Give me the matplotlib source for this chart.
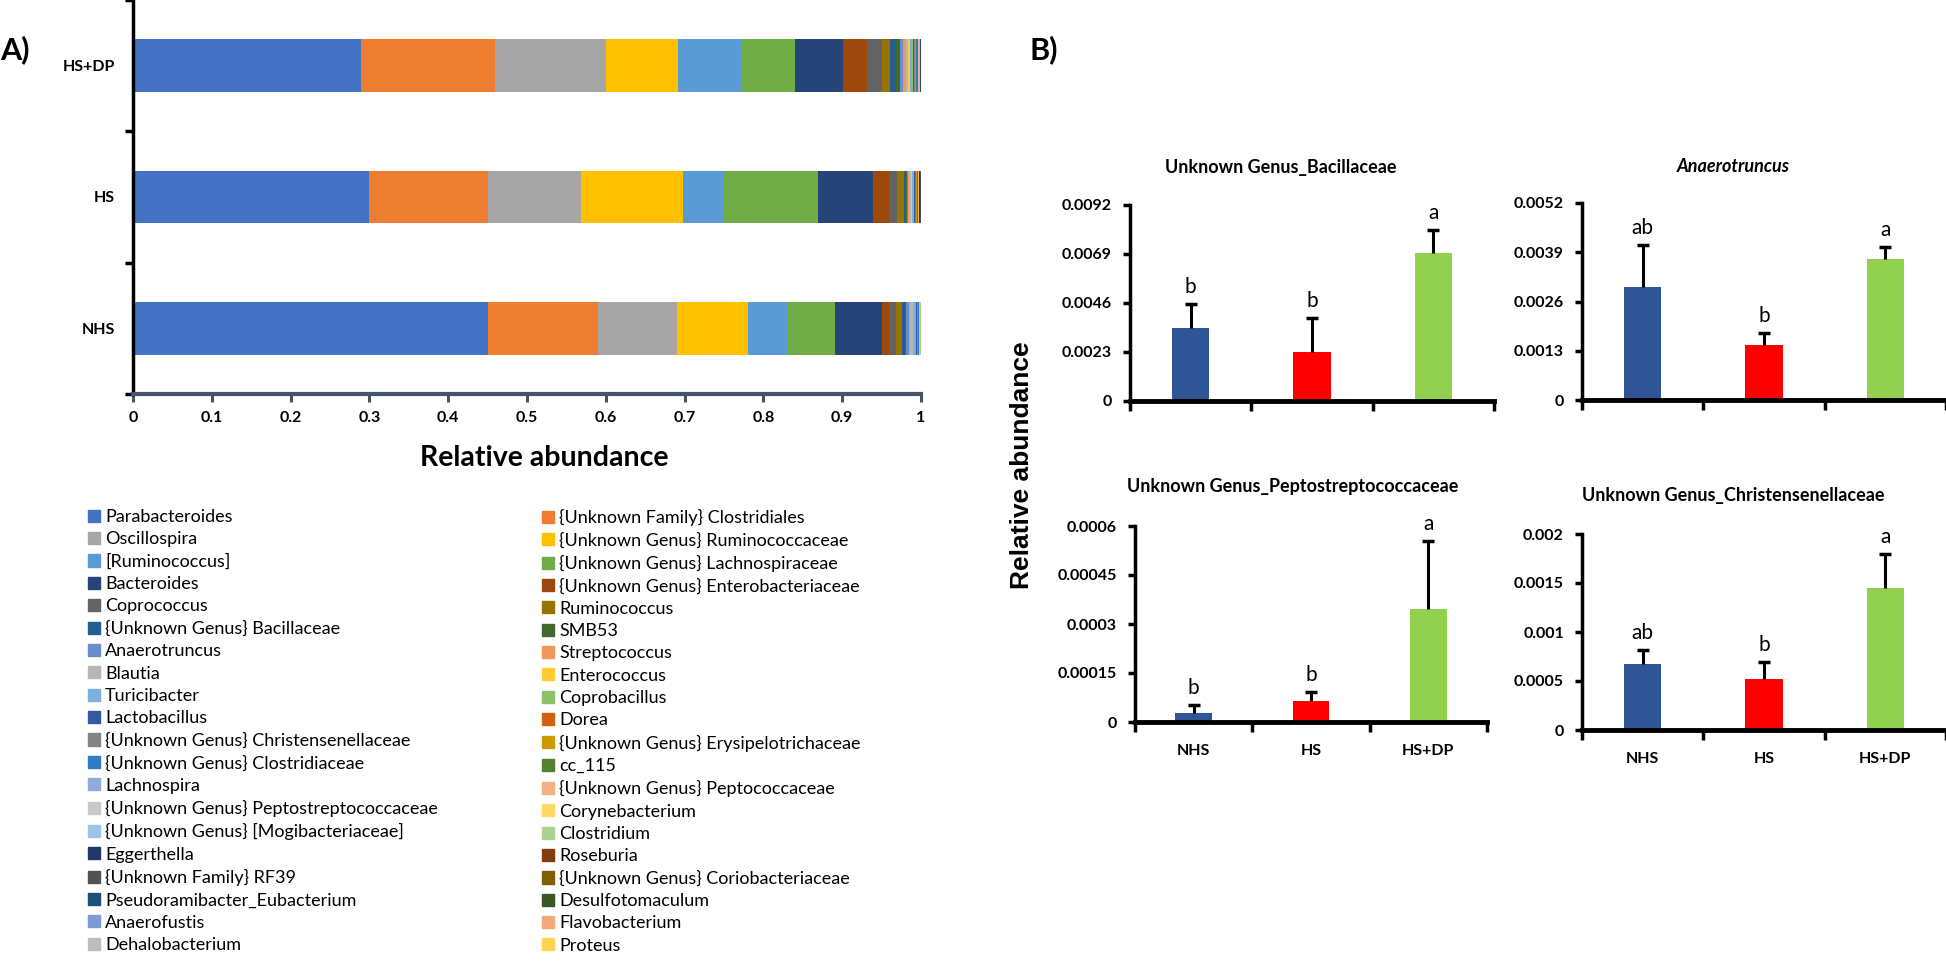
import numpy as np
import matplotlib
matplotlib.use("Agg")
import matplotlib.pyplot as plt
from matplotlib.patches import Patch

plt.rcParams['font.family'] = ['Lato', 'DejaVu Sans']

# ---------------- data: panel A (stacked relative abundance) ----------------
groups = ['NHS', 'HS', 'HS+DP']

taxa = ['Parabacteroides', '{Unknown Family} Clostridiales', 'Oscillospira',
        '{Unknown Genus} Ruminococcaceae', '[Ruminococcus]', '{Unknown Genus} Lachnospiraceae',
        'Bacteroides', '{Unknown Genus} Enterobacteriaceae', 'Coprococcus', 'Ruminococcus',
        '{Unknown Genus} Bacillaceae', 'SMB53', 'Anaerotruncus', 'Streptococcus',
        'Blautia', 'Enterococcus', 'Turicibacter', 'Coprobacillus', 'Lactobacillus', 'Dorea',
        '{Unknown Genus} Christensenellaceae', '{Unknown Genus} Erysipelotrichaceae',
        '{Unknown Genus} Clostridiaceae', 'cc_115', 'Lachnospira', '{Unknown Genus} Peptococcaceae',
        '{Unknown Genus} Peptostreptococcaceae', 'Corynebacterium',
        '{Unknown Genus} [Mogibacteriaceae]', 'Clostridium', 'Eggerthella', 'Roseburia',
        '{Unknown Family} RF39', '{Unknown Genus} Coriobacteriaceae', 'Pseudoramibacter_Eubacterium',
        'Desulfotomaculum', 'Anaerofustis', 'Flavobacterium', 'Dehalobacterium', 'Proteus']

taxa_colors = ['#4472C4', '#ED7D31', '#A5A5A5', '#FFC000', '#5B9BD5', '#70AD47',
               '#264478', '#9E480E', '#636363', '#997300', '#255E91', '#43682B',
               '#698ED0', '#F1975A', '#B7B7B7', '#FFCD33', '#7CAFDD', '#8CC168',
               '#335AA1', '#D26012', '#848484', '#CC9A00', '#327DC2', '#548235',
               '#8FAADC', '#F4B183', '#C9C9C9', '#FFD966', '#9DC3E6', '#A9D18E',
               '#203864', '#843C0C', '#525252', '#7F6000', '#1F4E79', '#385723',
               '#7D9BD6', '#F4A87C', '#BDBDBD', '#FFD54F']

nhs = [0.450, 0.140, 0.100, 0.090, 0.050, 0.061, 0.059, 0.010, 0.008, 0.008,
       0.0034, 0.002, 0.0030, 0.002, 0.003, 0.001, 0.003, 0.0005, 0.001, 0.0005,
       0.00067, 0.0005, 0.0005, 0.0004, 0.0005, 0.0005, 0.00003, 0.0003, 0.0005, 0.0002,
       0.0002, 0.0002, 0.0002, 0.0001, 0.0001, 0.0001, 0.0001, 0.0001, 0.0001, 0.0001]

hs = [0.300, 0.150, 0.118, 0.130, 0.051, 0.120, 0.070, 0.020, 0.010, 0.009,
      0.0023, 0.002, 0.00145, 0.001, 0.0027, 0.001, 0.0015, 0.001, 0.001, 0.0015,
      0.00052, 0.0008, 0.0008, 0.0006, 0.0006, 0.0004, 0.000064, 0.0003, 0.0003, 0.0002,
      0.0002, 0.001, 0.0002, 0.0001, 0.0001, 0.0001, 0.0001, 0.0001, 0.0001, 0.0001]

hsdp = [0.289, 0.171, 0.140, 0.091, 0.080, 0.069, 0.061, 0.030, 0.020, 0.010,
        0.0068, 0.006, 0.0037, 0.004, 0.002, 0.003, 0.0015, 0.0015, 0.001, 0.001,
        0.00145, 0.001, 0.001, 0.0008, 0.0006, 0.0005, 0.00035, 0.0004, 0.0004, 0.0003,
        0.0003, 0.0003, 0.0002, 0.0002, 0.0002, 0.0001, 0.0001, 0.0001, 0.0001, 0.0001]

xticks_a = [0, 0.1, 0.2, 0.3, 0.4, 0.5, 0.6, 0.7, 0.8, 0.9, 1]

# ---------------- data: panel B (selected genera) ----------------
group_colors = ['#2F5597', '#FF0000', '#92D050']

bac_mean = [0.00343, 0.0023, 0.00695]
bac_err = [0.00112, 0.0016, 0.00108]
bac_letters = ['b', 'b', 'a']
bac_ticks = [0, 0.0023, 0.0046, 0.0069, 0.0092]

ana_mean = [0.00298, 0.00145, 0.00372]
ana_err = [0.00111, 0.00031, 0.00033]
ana_letters = ['ab', 'b', 'a']
ana_ticks = [0, 0.0013, 0.0026, 0.0039, 0.0052]

pep_mean = [0.000028, 0.000064, 0.000347]
pep_err = [0.000025, 0.000028, 0.000207]
pep_letters = ['b', 'b', 'a']
pep_ticks = [0, 0.00015, 0.0003, 0.00045, 0.0006]

chr_mean = [0.000673, 0.00052, 0.00145]
chr_err = [0.000143, 0.000173, 0.00035]
chr_letters = ['ab', 'b', 'a']
chr_ticks = [0, 0.0005, 0.001, 0.0015, 0.002]

W, H = 1946, 968
fig = plt.figure(figsize=(W / 100, H / 100), dpi=100)


def rect(l, t, r, b):
    # pixel box -> figure fraction
    return [l / W, 1 - b / H, (r - l) / W, (b - t) / H]


# ---------------- panel A ----------------
axA = fig.add_axes(rect(133, 0, 921, 394))
ypos = np.arange(len(groups))
left = np.zeros(len(groups))
for i, name in enumerate(taxa):
    vals = np.array([nhs[i], hs[i], hsdp[i]])
    axA.barh(ypos, vals, left=left, height=0.4, color=taxa_colors[i], label=name)
    left += vals

axA.set_xlim(0, 1)
axA.set_ylim(-0.5, 2.5)
axA.set_xticks(xticks_a)
axA.set_xticklabels(['%g' % v for v in xticks_a], fontsize=11.5, fontweight='bold')
axA.tick_params(axis='x', direction='out', length=6, width=2.2, color='#44546A', pad=6)
axA.set_yticks([-0.5, 0.5, 1.5, 2.5])
axA.set_yticklabels([])
axA.set_yticks(ypos, minor=True)
axA.set_yticklabels(groups, minor=True, fontsize=11.5, fontweight='bold')
axA.tick_params(axis='y', which='major', direction='out', length=6, width=2.5)
axA.tick_params(axis='y', which='minor', length=0, pad=13)
for s in ['top', 'right']:
    axA.spines[s].set_visible(False)
axA.spines['left'].set_linewidth(2.5)
axA.spines['bottom'].set_linewidth(3)
axA.spines['bottom'].set_color('#44546A')

fig.text(544 / W, 1 - 458 / H, 'Relative abundance', ha='center', va='center',
         fontsize=20.5, fontweight='bold')
fig.text(0 / W, 1 - 50 / H, 'A)', ha='left', va='center', fontsize=22, fontweight='bold')

# legend: Excel fills row-wise over two columns
leg_handles = [Patch(color=c) for c in taxa_colors]
for col, x0 in enumerate([88, 542]):
    fig.legend(leg_handles[col::2], taxa[col::2], loc='upper left',
               bbox_to_anchor=(x0 / W, 1 - 509 / H), ncol=1, frameon=False,
               fontsize=13, handlelength=0.65, handleheight=0.65, handletextpad=0.3,
               labelspacing=0.35, borderpad=0, borderaxespad=0)

# ---------------- panel B ----------------
fig.text(1030 / W, 1 - 50 / H, 'B)', ha='left', va='center', fontsize=22, fontweight='bold')
fig.text(1022 / W, 1 - 465 / H, 'Relative abundance', rotation=90, ha='center', va='center',
         fontsize=19, fontweight='bold', family='Liberation Sans')


def bar_panel(box, mean, err, letters, ticks, title, title_xy, italic=False, show_x=False):
    ax = fig.add_axes(rect(*box))
    x = np.arange(len(groups))
    ax.bar(x, mean, width=0.31, color=group_colors)
    eb = ax.errorbar(x, mean, yerr=[np.zeros(len(err)), err], fmt='none', ecolor='black',
                     elinewidth=2.2, capsize=4.5, capthick=2.5)
    eb[1][0].set_visible(False)
    for xi, m, e, lt in zip(x, mean, err, letters):
        ax.annotate(lt, (xi, m + e), xytext=(0, 5), textcoords='offset points',
                    ha='center', va='bottom', fontsize=15)
    ax.set_xlim(-0.5, 2.5)
    ax.set_ylim(0, ticks[-1])
    ax.set_yticks(ticks)
    ax.set_yticklabels(['%g' % t for t in ticks], fontsize=11.5, fontweight='bold')
    ax.set_xticks([-0.5, 0.5, 1.5, 2.5])
    ax.set_xticklabels([])
    ax.tick_params(axis='both', which='major', direction='out', width=2.5)
    ax.tick_params(axis='y', length=5, pad=8)
    ax.tick_params(axis='x', length=7)
    if show_x:
        ax.set_xticks(x, minor=True)
        ax.set_xticklabels(groups, minor=True, fontsize=11.5, fontweight='bold')
        ax.tick_params(axis='x', which='minor', length=0, pad=16)
    for s in ['top', 'right']:
        ax.spines[s].set_visible(False)
    ax.spines['left'].set_linewidth(2.5)
    ax.spines['bottom'].set_linewidth(3.5)
    fig.text(title_xy[0] / W, 1 - title_xy[1] / H, title, ha='center', va='center',
             fontsize=13, fontweight='bold', style='italic' if italic else 'normal')
    return ax


bar_panel((1130, 205, 1494, 401), bac_mean, bac_err, bac_letters, bac_ticks,
          'Unknown Genus_Bacillaceae', (1281, 167))
bar_panel((1582, 203, 1946, 400), ana_mean, ana_err, ana_letters, ana_ticks,
          'Anaerotruncus', (1733, 167), italic=True)
bar_panel((1135, 526, 1487, 722), pep_mean, pep_err, pep_letters, pep_ticks,
          'Unknown Genus_Peptostreptococcaceae', (1293, 486), show_x=True)
bar_panel((1582, 534, 1946, 730), chr_mean, chr_err, chr_letters, chr_ticks,
          'Unknown Genus_Christensenellaceae', (1733, 495), show_x=True)

fig.savefig('out.png', dpi=100)
